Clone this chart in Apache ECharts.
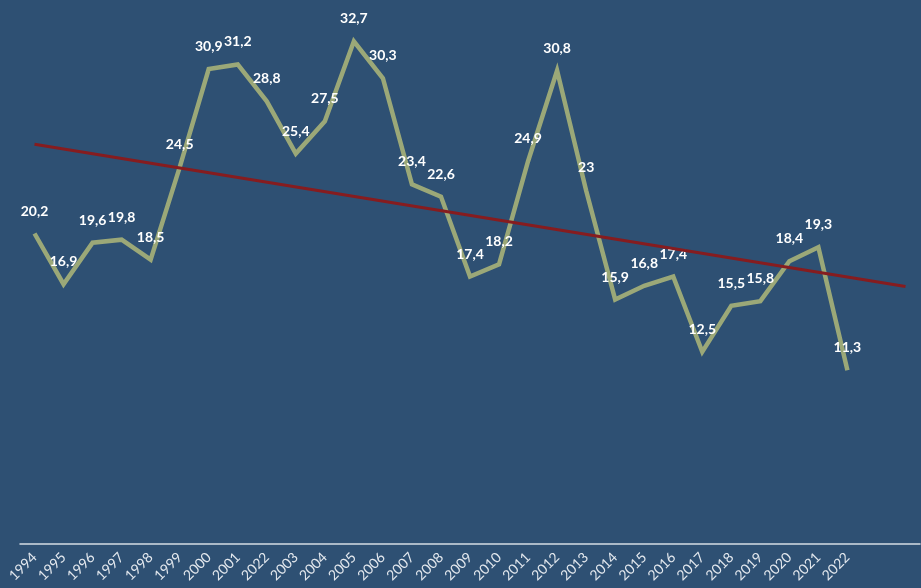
<!DOCTYPE html>
<html>
<head>
<meta charset="utf-8">
<script src="https://cdn.jsdelivr.net/npm/echarts@6/dist/echarts.min.js"></script>
<style>
html,body{margin:0;padding:0;background:#2E5073;}
#chart{width:921px;height:588px;}
</style>
</head>
<body>
<div id="chart"></div>
<script>
var categories = ['1994','1995','1996','1997','1998','1999','2000','2001','2022','2003','2004','2005','2006','2007','2008','2009','2010','2011','2012','2013','2014','2015','2016','2017','2018','2019','2020','2021','2022','',''];
var values = [20.2,16.9,19.6,19.8,18.5,24.5,30.9,31.2,28.8,25.4,27.5,32.7,30.3,23.4,22.6,17.4,18.2,24.9,30.8,23,15.9,16.8,17.4,12.5,15.5,15.8,18.4,19.3,11.3];
var trendIndex = [0, 30];
var trendValues = [26.0, 16.75];

var chart = echarts.init(document.getElementById('chart'));
chart.setOption({
  backgroundColor: '#2E5073',
  animation: false,
  grid: {left: 20, right: 1, top: 6, bottom: 44},
  xAxis: {
    type: 'category',
    data: categories,
    boundaryGap: true,
    axisLine: {lineStyle: {color: '#d5dde5', width: 1.5}},
    axisTick: {show: false},
    axisLabel: {rotate: 45, interval: 0, color: '#e3e8ee', fontFamily: 'Lato', fontSize: 14, margin: 11}
  },
  yAxis: {type: 'value', min: 0, max: 35, show: false, splitLine: {show: false}},
  series: [
    {
      type: 'line',
      data: values,
      showSymbol: true,
      symbol: 'circle',
      symbolSize: 1,
      itemStyle: {color: 'rgba(0,0,0,0)'},
      lineStyle: {color: '#9BA878', width: 4.5, join: 'miter'},
      label: {
        show: true, position: 'top', distance: 15,
        color: '#ffffff', fontFamily: 'Lato', fontWeight: 'bold', fontSize: 14,
        formatter: function (p) { return String(p.value).replace('.', ','); }
      },
      z: 2
    },
    {
      type: 'line',
      data: trendIndex.map(function (x, i) { return [x, trendValues[i]]; }),
      showSymbol: false,
      symbol: 'none',
      lineStyle: {color: '#861C1F', width: 3},
      z: 3
    }
  ]
});
</script>
</body>
</html>
